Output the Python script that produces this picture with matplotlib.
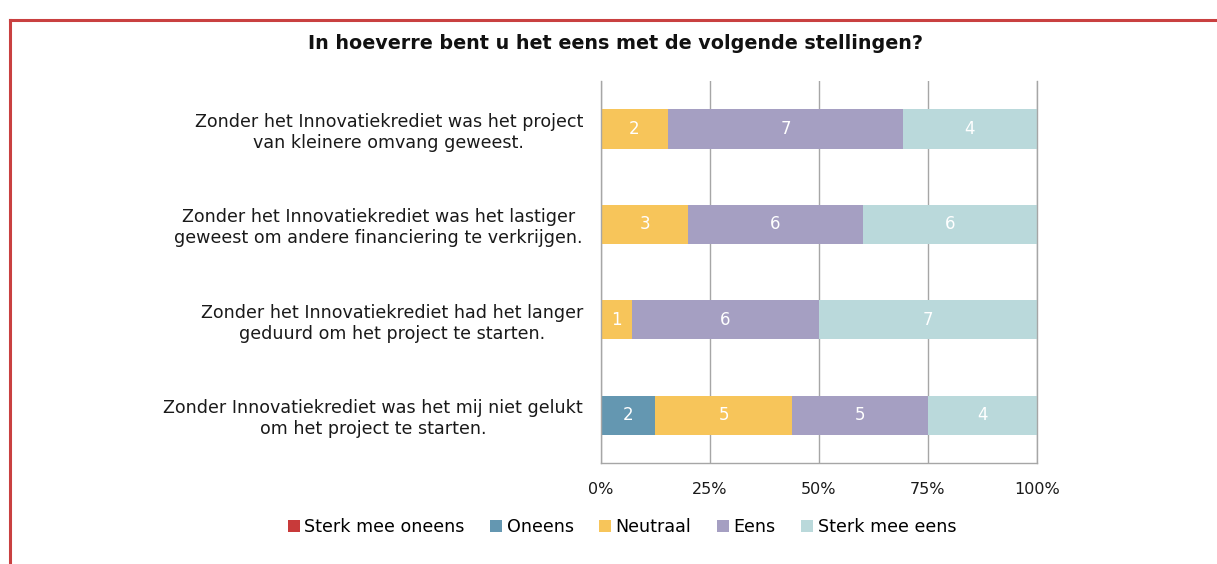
import numpy as np
import matplotlib
matplotlib.use('Agg')
import matplotlib.pyplot as plt
from matplotlib.patches import Patch
from matplotlib.lines import Line2D

plt.rcParams['font.family'] = ['DejaVu Sans']

statements = [
    'Zonder het Innovatiekrediet was het project\nvan kleinere omvang geweest.',
    'Zonder het Innovatiekrediet was het lastiger\ngeweest om andere financiering te verkrijgen.',
    'Zonder het Innovatiekrediet had het langer\ngeduurd om het project te starten.',
    'Zonder Innovatiekrediet was het mij niet gelukt\nom het project te starten.',
]
categories = ['Sterk mee oneens', 'Oneens', 'Neutraal', 'Eens', 'Sterk mee eens']
sterk_oneens = [0, 0, 0, 0]
oneens = [0, 0, 0, 2]
neutraal = [2, 3, 1, 5]
eens = [7, 6, 6, 5]
sterk_eens = [4, 6, 7, 4]
colors = ['#C83A3A', '#6497B1', '#F7C55A', '#A59FC2', '#BAD9DB']

counts = np.array([sterk_oneens, oneens, neutraal, eens, sterk_eens], dtype=float)
totals = counts.sum(axis=0)
shares = counts / totals

fig = plt.figure(figsize=(12.17, 5.64), dpi=100)
ax = fig.add_axes([0.4938, 0.179, 0.3583, 0.677])

y = np.arange(len(statements))
left = np.zeros(len(statements))
for i, cat in enumerate(categories):
    ax.barh(y, shares[i], left=left, height=0.41, color=colors[i], label=cat, zorder=3)
    for j in range(len(statements)):
        if counts[i, j] > 0:
            ax.text(left[j] + shares[i, j] / 2, y[j], '%d' % counts[i, j],
                    ha='center', va='center', color='white', fontsize=12, zorder=4)
    left += shares[i]

ax.set_xlim(0, 1)
ax.set_ylim(3.5, -0.5)
ax.set_xticks([0, 0.25, 0.5, 0.75, 1.0])
ax.set_xticklabels(['0%', '25%', '50%', '75%', '100%'], fontsize=11.5, color='#1a1a1a')
ax.set_yticks(y)
ax.set_yticklabels(statements, fontsize=12.6, color='#1a1a1a',
                   multialignment='center', linespacing=1.2)
ax.tick_params(axis='both', length=0)
ax.tick_params(axis='x', pad=14)
ax.tick_params(axis='y', pad=13)
ax.grid(axis='x', color='#A6A6A6', linewidth=1, zorder=0)
ax.spines['top'].set_visible(False)
for side in ['left', 'bottom', 'right']:
    ax.spines[side].set_color('#A6A6A6')
    ax.spines[side].set_linewidth(1)
    ax.spines[side].set_zorder(5)

fig.text(0.506, 0.922, 'In hoeverre bent u het eens met de volgende stellingen?',
         ha='center', va='center', fontsize=13.8, fontweight='bold', color='#111111')

handles = [Patch(facecolor=c, edgecolor='none') for c in colors]
fig.legend(handles, categories, loc='center', bbox_to_anchor=(0.511, 0.066), ncol=5,
           frameon=False, fontsize=12.6, handlelength=0.7, handleheight=0.7,
           handletextpad=0.25, columnspacing=1.45)

# red frame of the surrounding document
fig.add_artist(Line2D([10 / 1217, 1], [1 - 20 / 564, 1 - 20 / 564], color='#C94040', linewidth=2.2))
fig.add_artist(Line2D([10 / 1217, 10 / 1217], [0, 1 - 20 / 564], color='#C94040', linewidth=2.2))

fig.savefig('out.png', dpi=100)
